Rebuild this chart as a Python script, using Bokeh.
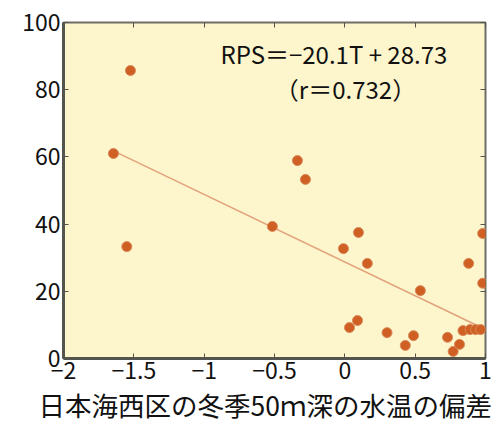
from bokeh.plotting import figure
from bokeh.models import LinearAxis, FixedTicker, Range1d, Label, Title
from bokeh.embed import file_html
from bokeh.resources import INLINE

# Winter 50 m water-temperature anomaly (T) vs. RPS
temp_anomaly = [-1.645, -1.524, -1.55, -0.515, -0.337, -0.28, -0.01, 0.097, 0.16,
                0.537, 0.033, 0.09, 0.30, 0.43, 0.488, 0.73, 0.77, 0.815, 0.84,
                0.89, 0.93, 0.965, 0.88, 0.98, 0.98]
rps = [61.0, 85.7, 33.3, 39.3, 58.9, 53.3, 32.7, 37.5, 28.3,
       20.2, 9.2, 11.3, 7.7, 3.9, 6.8, 6.3, 2.1, 4.2, 8.3,
       8.6, 8.6, 8.6, 28.3, 37.2, 22.4]

# Regression: RPS = -20.1 T + 28.73
slope, intercept = -20.1, 28.73
fit_x = [-1.645, 0.97]
fit_y = [slope * t + intercept for t in fit_x]

x_ticks = [-2, -1.5, -1, -0.5, 0, 0.5, 1]
x_tick_labels = ["−2", "−1.5", "−1", "−0.5", "0", "0.5", "1"]
y_ticks = [0, 20, 40, 60, 80, 100]

FONT = "Noto Sans CJK JP"
INK = "#111111"
AXIS_GREY = "#55554f"

p = figure(width=494, height=425, output_backend="svg", toolbar_location=None,
           x_range=Range1d(-2, 1), y_range=Range1d(0, 100),
           min_border_left=63, min_border_right=9, min_border_top=22,
           min_border_bottom=0)
p.border_fill_color = "white"
p.grid.visible = False
p.background_fill_color = "#fdf5cb"
p.outline_line_color = "#6e6e66"
p.outline_line_width = 2

xa = p.xaxis[0]
xa.ticker = FixedTicker(ticks=x_ticks)
xa.major_label_overrides = {t: s for t, s in zip(x_ticks, x_tick_labels)}

ya = p.yaxis[0]
ya.ticker = FixedTicker(ticks=y_ticks)

for ax in (xa, ya):
    ax.major_label_text_font = FONT
    ax.major_label_text_font_size = "23px"
    ax.major_label_text_color = INK
    ax.axis_line_color = AXIS_GREY
    ax.axis_line_width = 3
    ax.major_tick_in = 5
    ax.major_tick_out = 0
    ax.major_tick_line_color = AXIS_GREY
    ax.minor_tick_line_color = None
    ax.major_label_standoff = 3

# mirrored ticks on the top and right edges, without labels
for ticks, side in ((x_ticks, "above"), (y_ticks, "right")):
    mirror = LinearAxis(ticker=FixedTicker(ticks=ticks), major_label_text_color=None,
                        major_tick_in=5, major_tick_out=0, minor_tick_line_color=None,
                        axis_line_color=None, major_tick_line_color=AXIS_GREY)
    p.add_layout(mirror, side)

p.line(fit_x, fit_y, line_color="#e2a27c", line_width=1.5)
p.scatter(temp_anomaly, rps, size=10, fill_color="#cf5f22", line_color="#d98a5a",
          line_width=1)

# regression equation (screen offsets are measured from the frame's lower-left corner)
p.add_layout(Label(x=157, y=305, x_units="screen", y_units="screen",
                   text="RPS＝−20.1T + 28.73", text_font=FONT, text_font_size="24px",
                   text_color=INK, text_align="left", text_baseline="middle"))
p.add_layout(Label(x=282, y=270, x_units="screen", y_units="screen",
                   text="（r＝0.732）", text_font=FONT, text_font_size="24px",
                   text_color=INK, text_align="center", text_baseline="middle"))

# x-axis title, set as a title strip below the axis
p.add_layout(Title(text="日本海西区の冬季50ｍ深の水温の偏差", text_font=FONT,
                   text_font_size="26.5px", text_font_style="normal", text_color=INK,
                   align="left", offset=-25, standoff=3), "below")

open("out.html", "w").write(file_html(p, INLINE))
